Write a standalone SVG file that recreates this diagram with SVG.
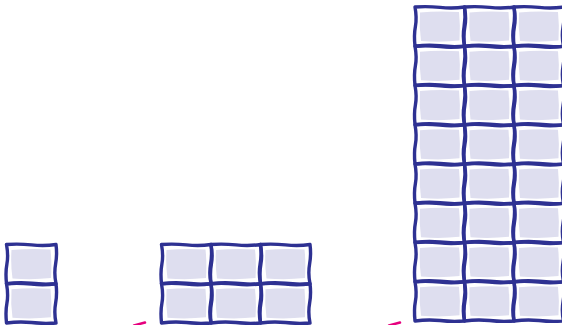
<svg xmlns="http://www.w3.org/2000/svg" xmlns:xlink="http://www.w3.org/1999/xlink" width="562" height="325" viewBox="0 0 562 325">
<style>
.b{fill:none;stroke:#2e3192;stroke-width:3.4;stroke-linejoin:round}
.f{fill:#dedeef;stroke:none}
.p{fill:none;stroke:#e6007e;stroke-width:2.5;stroke-linecap:round}
</style>
<defs>
<g id="cell">
<path class="f" d="M5,5.5 Q22,4 44,5 Q45.5,19 44.5,33.5 Q26,35.5 6,34 Q4,20 5,5.5 Z"/>
<path class="b" d="M0,0 Q12,-1 25,0.4 T49.5,0 Q50.8,10 49.1,19.5 T49.5,39.25 Q37,40.2 25,38.8 T0,39.25 Q-1.2,28 0.4,19.5 T0,0 Z"/>
</g>
<g id="block">
<use xlink:href="#cell" x="0" y="0"/>
<use xlink:href="#cell" x="49.5" y="0"/>
<use xlink:href="#cell" x="99" y="0"/>
<use xlink:href="#cell" x="0" y="39.25"/>
<use xlink:href="#cell" x="49.5" y="39.25"/>
<use xlink:href="#cell" x="99" y="39.25"/>
</g>
</defs>
<g id="small">
<use xlink:href="#cell" x="6.5" y="244.5"/>
<use xlink:href="#cell" x="6.5" y="283.75"/>
</g>
<g id="medium">
<use xlink:href="#block" x="161.5" y="244.5"/>
</g>
<g id="large">
<use xlink:href="#block" x="415" y="7"/>
<use xlink:href="#block" x="415" y="85.5"/>
<use xlink:href="#block" x="415" y="164"/>
<use xlink:href="#block" x="415" y="242.5"/>
</g>
<g id="connectors">
<path class="p" d="M134,325.5 L145,322.5"/>
<path class="p" d="M389,325.5 L400,322.5"/>
</g>
</svg>
